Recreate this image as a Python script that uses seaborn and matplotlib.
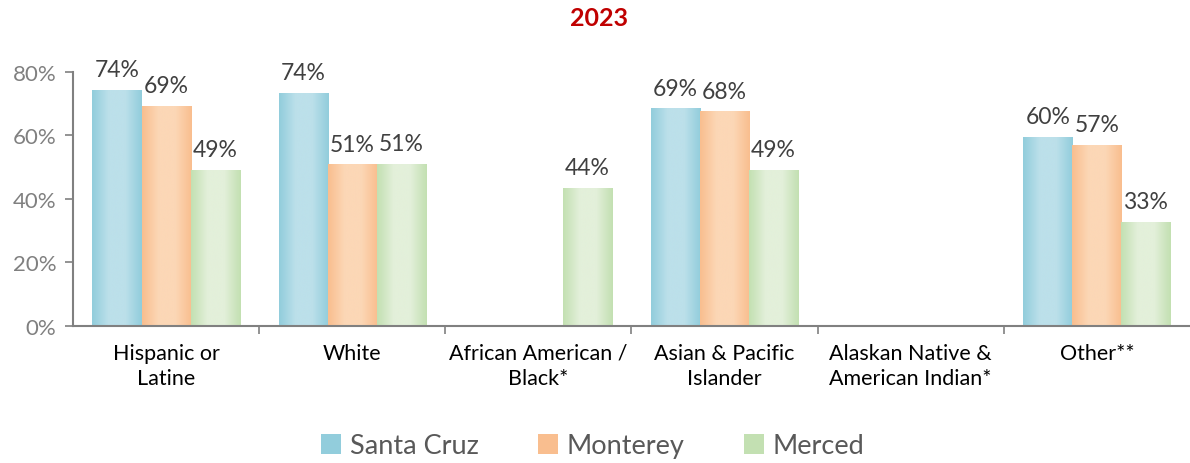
import matplotlib
matplotlib.use("Agg")
import matplotlib.pyplot as plt
import numpy as np
import pandas as pd
import seaborn as sns
from matplotlib.colors import LinearSegmentedColormap
from matplotlib.patches import Patch
from matplotlib.ticker import FixedLocator, PercentFormatter

categories = [
    "Hispanic or\nLatine",
    "White",
    "African American /\nBlack*",
    "Asian & Pacific\nIslander",
    "Alaskan Native &\nAmerican Indian*",
    "Other**",
]
counties = ["Santa Cruz", "Monterey", "Merced"]
santa_cruz = [74.4, 73.5, np.nan, 68.6, np.nan, 59.6]
monterey = [69.3, 51.0, np.nan, 67.6, np.nan, 57.1]
merced = [49.2, 51.1, 43.6, 49.2, np.nan, 32.8]

# edge / centre shades for the horizontal gradient fill
edge_colors = ["#92CDDC", "#F9BE8F", "#C3E0B2"]
mid_colors = ["#BCE0EA", "#FCD7B6", "#E3F0DA"]

df = pd.DataFrame({
    "group": categories * 3,
    "county": np.repeat(counties, len(categories)),
    "value": santa_cruz + monterey + merced,
})

sns.set_theme(style="white")
plt.rcParams["font.family"] = ["Lato", "DejaVu Sans"]

fig = plt.figure(figsize=(11.9, 4.64), dpi=100)
ax = fig.add_axes([0.0613, 0.2953, 0.9387, 0.5474])

sns.barplot(data=df, x="group", y="value", hue="county", hue_order=counties,
            palette=edge_colors, width=0.79, gap=0, saturation=1,
            legend=False, ax=ax)

# gradient fill on each bar + value labels
for cont, c_edge, c_mid in zip(ax.containers, edge_colors, mid_colors):
    cmap = LinearSegmentedColormap.from_list("g", [c_edge, c_mid, c_mid, c_edge])
    grad = np.linspace(0, 1, 64).reshape(1, -1)
    for bar in cont:
        h = bar.get_height()
        if np.isnan(h) or h == 0:
            continue
        x0 = bar.get_x()
        w = bar.get_width()
        im = ax.imshow(grad, cmap=cmap, aspect="auto", extent=[x0, x0 + w, 0, h],
                       zorder=bar.get_zorder() + 0.1, interpolation="bicubic")
        im.set_clip_path(bar)
        ax.text(x0 + w / 2, h + 3, f"{h:.0f}%", ha="center", va="bottom",
                fontsize=16.5, color="#404040")
ax.set_xlim(-0.5, 5.5)
ax.set_ylim(0, 80)

ax.set_yticks([0, 20, 40, 60, 80])
ax.yaxis.set_major_formatter(PercentFormatter(decimals=0))
ax.tick_params(axis="y", labelsize=16, labelcolor="#808080", color="#808080",
               length=6, width=1.2, left=True, pad=6)
ax.tick_params(axis="x", which="major", length=0, labelsize=15.5, labelcolor="#000000", pad=12)
for lbl in ax.get_xticklabels():
    lbl.set_linespacing(1.35)
ax.xaxis.set_minor_locator(FixedLocator([0.5, 1.5, 2.5, 3.5, 4.5]))
ax.tick_params(axis="x", which="minor", bottom=True, length=6, width=1.2, color="#808080")
ax.set_xlabel("")
ax.set_ylabel("")

for side in ["top", "right"]:
    ax.spines[side].set_visible(False)
for side in ["left", "bottom"]:
    ax.spines[side].set_color("#808080")
    ax.spines[side].set_linewidth(1.5)

fig.suptitle("2023", x=0.503, y=0.985, fontsize=18, fontweight="bold", color="#C00000")

handles = [Patch(facecolor=m, edgecolor="none") for m in edge_colors]
fig.legend(handles, counties, loc="center", bbox_to_anchor=(0.498, 0.037), ncol=3,
           frameon=False, fontsize=19.5, labelcolor="#595959", handlelength=0.75,
           handleheight=0.75, handletextpad=0.3, columnspacing=2.2)

fig.savefig("out.png", dpi=100)
